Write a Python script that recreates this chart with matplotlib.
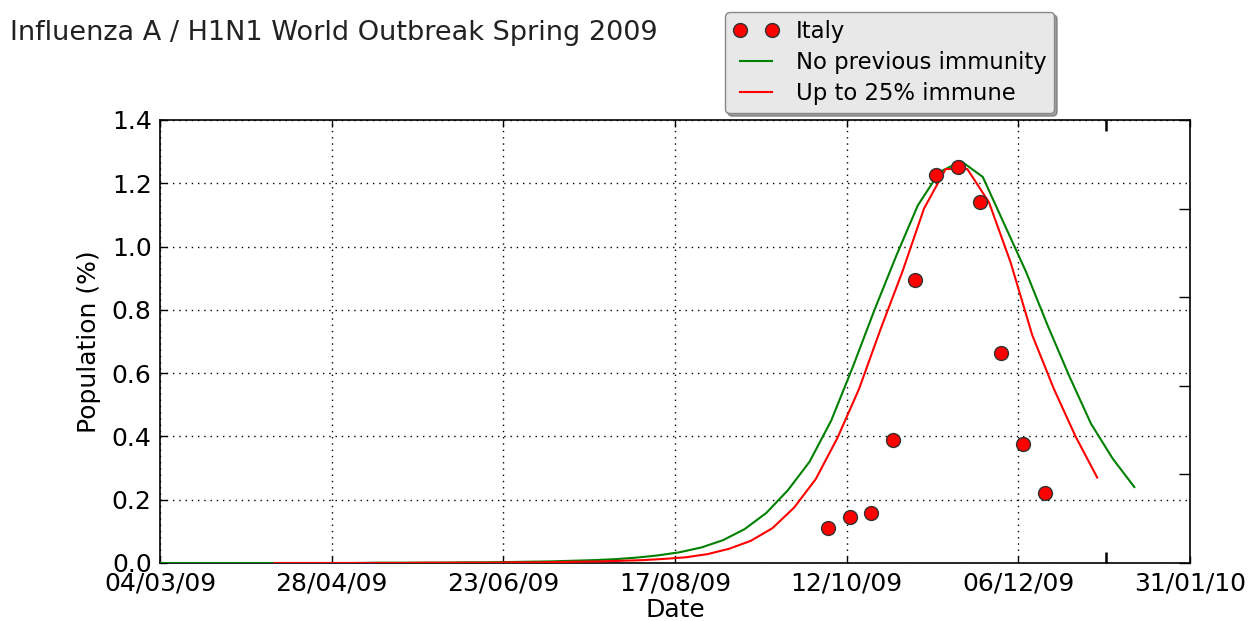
import numpy as np
import pandas as pd
import matplotlib
matplotlib.use("Agg")
import matplotlib.pyplot as plt
import matplotlib.dates as mdates


START_DATE = pd.Timestamp("2009-03-04")
END_DATE = pd.Timestamp("2010-01-31")

# model curves, one value per week
no_immunity_start = pd.Timestamp("2009-03-04")
no_immunity = [
    0.000, 0.000, 0.000, 0.000, 0.000, 0.000, 0.000, 0.000, 0.000, 0.000,
    0.001, 0.001, 0.001, 0.001, 0.002, 0.002, 0.003, 0.004, 0.005, 0.007,
    0.009, 0.012, 0.017, 0.024, 0.034, 0.049, 0.072, 0.107, 0.158, 0.230,
    0.320, 0.450, 0.620, 0.800, 0.970, 1.130, 1.235, 1.270, 1.220, 1.070,
    0.920, 0.750, 0.590, 0.440, 0.330, 0.240,
]

immune_25_start = pd.Timestamp("2009-04-10")
immune_25 = [
    0.000, 0.000, 0.000, 0.000, 0.000, 0.000, 0.000, 0.001, 0.001, 0.001,
    0.001, 0.002, 0.002, 0.003, 0.004, 0.005, 0.007, 0.009, 0.013, 0.018,
    0.028, 0.045, 0.070, 0.110, 0.175, 0.265, 0.395, 0.550, 0.740, 0.920,
    1.120, 1.245, 1.245, 1.140, 0.950, 0.720, 0.550, 0.400, 0.270,
]

# observed data
italy_start = pd.Timestamp("2009-10-06")
italy = [0.110, 0.145, 0.158, 0.390, 0.895, 1.226, 1.250, 1.140, 0.665, 0.375, 0.220]

MARK_DATE = pd.Timestamp("2010-01-04")

TITLE = "Influenza A / H1N1 World Outbreak Spring 2009"


def weekly(start, values):
    return pd.date_range(start, periods=len(values), freq="7D")


def main():
    plt.rcParams["font.family"] = "DejaVu Sans"

    fig = plt.figure(figsize=(12.5, 6.21), dpi=100)
    ax = fig.add_axes([0.128, 0.0934, 0.824, 0.7134])

    ax.plot(weekly(italy_start, italy), italy, "o", color="red",
            markeredgecolor="#333333", markeredgewidth=1.0, markersize=10,
            label="Italy", zorder=4)
    ax.plot(weekly(no_immunity_start, no_immunity), no_immunity,
            color="green", linewidth=1.5, label="No previous immunity", zorder=3)
    ax.plot(weekly(immune_25_start, immune_25), immune_25,
            color="red", linewidth=1.5, label="Up to 25% immune", zorder=3)

    x0 = mdates.date2num(START_DATE)
    x1 = mdates.date2num(END_DATE)
    ax.set_xlim(x0, x1)
    ax.set_ylim(0, 1.4)
    ax.set_xticks(np.linspace(x0, x1, 7))
    ax.xaxis.set_major_formatter(mdates.DateFormatter("%d/%m/%y"))
    ax.set_yticks(np.arange(0, 1.41, 0.2))
    ax.set_xticks([mdates.date2num(MARK_DATE)], minor=True)

    ax.grid(True, color="black", linestyle=(0, (1, 3.5)), linewidth=1.0)
    ax.tick_params(axis="both", which="major", direction="in", length=5,
                   width=1.0, labelsize=18, top=True, right=False, pad=6)
    ax.tick_params(axis="x", which="minor", direction="in", length=8,
                   width=1.8, top=True, bottom=True)
    for spine in ax.spines.values():
        spine.set_linewidth(1.2)

    ax.set_xlabel("Date", fontsize=18, labelpad=2)
    ax.set_ylabel("Population (%)", fontsize=18, labelpad=8)

    ax2 = ax.twinx()
    ax2.set_ylim(0, 1)
    ax2.set_yticks(np.arange(0, 1.01, 0.2))
    ax2.set_yticklabels([])
    ax2.tick_params(axis="y", direction="in", length=8, width=1.0)
    for spine in ax2.spines.values():
        spine.set_visible(False)

    fig.text(0.008, 0.935, TITLE, fontsize=19.5, ha="left", va="baseline",
             color="#222222")

    leg = ax.legend(loc="upper left", bbox_to_anchor=(725 / 1250, 1 - 12 / 621),
                    bbox_transform=fig.transFigure, numpoints=2, fontsize=16.4,
                    fancybox=True, shadow=True, framealpha=1.0,
                    handlelength=2.0, handletextpad=0.75, borderpad=0.35,
                    labelspacing=0.36, borderaxespad=0)
    leg.get_frame().set_facecolor("#e8e8e8")
    leg.get_frame().set_edgecolor("#888888")

    fig.savefig("out.png", dpi=100, facecolor="white")
    plt.close(fig)


if __name__ == "__main__":
    main()
